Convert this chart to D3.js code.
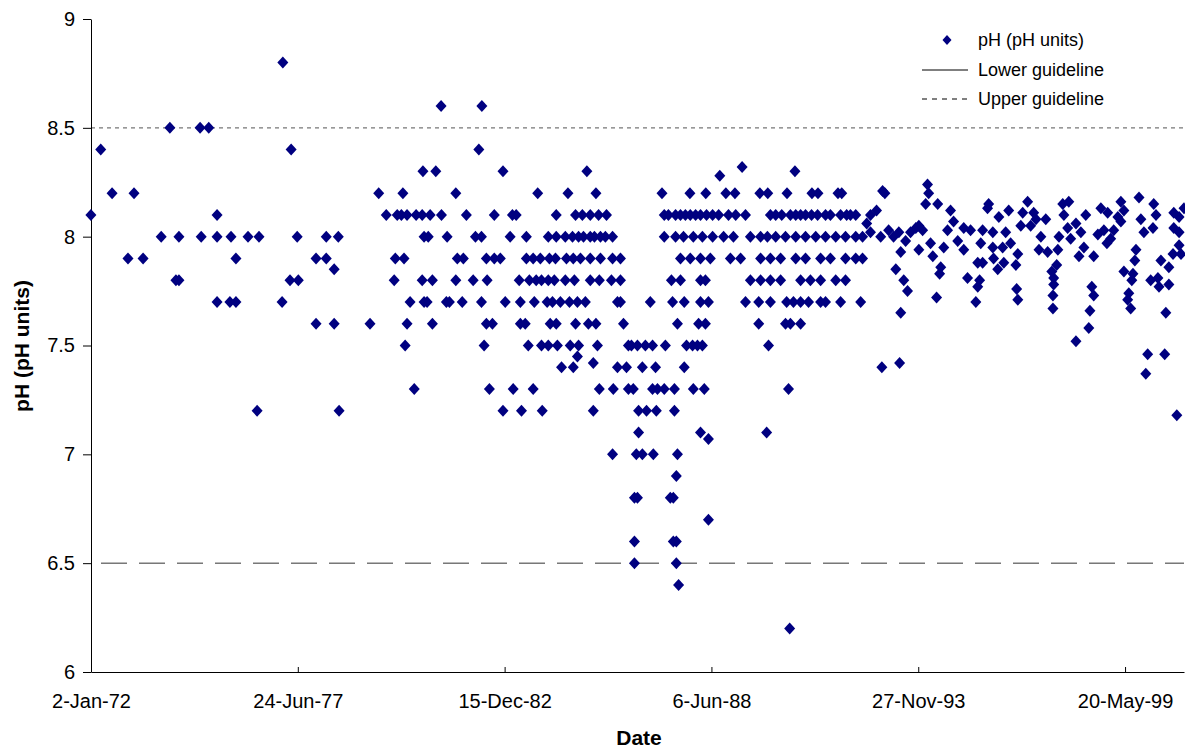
<!DOCTYPE html>
<html><head><meta charset="utf-8">
<script src="https://cdn.jsdelivr.net/npm/d3@7"></script>
<style>body{margin:0;background:#fff}text{font-family:"Liberation Sans",Arial,sans-serif}</style>
</head><body><svg id="c" width="1185" height="749"></svg>
<script>
// pH levels (1972-1992, 0.1 resolution) and decimal-year sample dates at each level
const phLevels = [8.8, 8.6, 8.5, 8.4, 8.32, 8.3, 8.28, 8.2, 8.1, 8.0, 7.9, 7.85, 7.8, 7.7, 7.6, 7.5, 7.45, 7.42, 7.4, 7.3, 7.2, 7.1, 7.07, 7.0, 6.9, 6.8, 6.7, 6.6, 6.5, 6.4, 6.2];
const yearsByLevel = [
 [1977.08],
 [1981.27,1982.35],
 [1974.09,1974.89,1975.12],
 [1972.26,1977.30,1982.27],
 [1989.24],
 [1980.79,1981.13,1982.91,1985.13,1990.64],
 [1988.65],
 [1972.56,1973.14,1979.62,1980.26,1981.66,1983.83,1984.63,1985.37,1987.12,1987.86,1988.28,1988.81,1989.05,1989.71,1989.92,1990.43,1991.09,1991.25,1991.78,1991.88,1993.02],
 [1972.00,1975.34,1979.82,1980.11,1980.22,1980.37,1980.61,1980.77,1980.98,1981.28,1981.94,1982.68,1983.16,1983.26,1984.32,1984.83,1985.01,1985.22,1985.44,1985.65,1987.18,1987.29,1987.48,1987.61,1987.74,1987.87,1988.01,1988.14,1988.30,1988.46,1988.62,1988.88,1989.07,1989.33,1989.99,1990.13,1990.29,1990.52,1990.66,1990.79,1990.92,1991.08,1991.24,1991.45,1991.58,1991.85,1992.01,1992.11,1992.25],
 [1973.86,1974.33,1974.92,1975.34,1975.71,1976.16,1976.45,1977.46,1978.23,1978.55,1980.82,1980.93,1981.43,1982.18,1982.34,1983.10,1983.53,1984.11,1984.32,1984.56,1984.75,1984.91,1985.04,1985.22,1985.33,1985.49,1985.62,1985.81,1987.18,1987.48,1987.69,1987.95,1988.19,1988.46,1988.75,1989.01,1989.46,1989.73,1989.91,1990.13,1990.39,1990.66,1990.92,1991.19,1991.45,1991.72,1991.98,1992.25,1992.43],
 [1972.98,1973.38,1975.84,1977.96,1978.23,1980.06,1980.29,1981.70,1981.86,1982.47,1982.68,1982.84,1983.53,1983.71,1983.90,1984.14,1984.30,1984.59,1984.77,1984.96,1985.22,1985.49,1985.81,1986.02,1987.61,1987.87,1988.14,1988.40,1988.93,1989.20,1989.73,1989.99,1990.26,1990.66,1990.92,1991.32,1991.58,1991.98,1992.25,1992.43],
 [1978.44],
 [1974.25,1974.33,1977.27,1977.49,1980.03,1980.77,1981.04,1981.66,1982.12,1982.49,1983.34,1983.61,1983.79,1983.93,1984.11,1984.27,1984.56,1984.80,1985.22,1985.46,1985.78,1986.02,1987.37,1987.61,1988.14,1988.27,1989.46,1989.73,1989.99,1990.26,1990.79,1991.05,1991.32,1991.72,1991.98],
 [1975.34,1975.68,1975.84,1977.06,1980.45,1980.82,1980.90,1981.41,1981.49,1981.83,1982.34,1982.97,1983.37,1983.74,1984.08,1984.22,1984.43,1984.67,1984.88,1985.09,1985.94,1986.02,1986.81,1987.40,1987.71,1988.14,1988.35,1989.33,1989.68,1989.99,1990.42,1990.60,1990.79,1991.00,1991.32,1991.45,1991.85,1992.38],
 [1977.96,1978.44,1979.39,1980.37,1981.04,1982.47,1982.63,1983.37,1983.50,1984.16,1984.32,1984.83,1985.17,1985.37,1986.10,1987.53,1988.09,1988.27,1989.68,1990.39,1990.52,1990.79],
 [1980.32,1982.41,1983.58,1983.93,1984.11,1984.35,1984.69,1984.91,1985.41,1986.23,1986.31,1986.47,1986.68,1986.87,1987.21,1987.77,1987.93,1988.06,1988.19,1989.94],
 [1984.88],
 [1985.30],
 [1984.46,1984.77,1985.94,1986.18,1986.60,1986.95,1987.71],
 [1980.56,1982.55,1983.18,1983.71,1985.46,1985.83,1986.23,1986.36,1986.87,1987.00,1987.18,1987.45,1987.95,1988.24,1990.47],
 [1976.40,1978.57,1982.91,1983.40,1983.95,1985.30,1986.50,1986.71,1986.97,1987.45],
 [1986.50,1988.14,1989.89],
 [1988.35],
 [1985.81,1986.44,1986.60,1986.89,1987.53],
 [1987.50],
 [1986.39,1986.47,1987.34,1987.42],
 [1988.35],
 [1986.39,1987.42,1987.50],
 [1986.39,1987.50],
 [1987.56],
 [1990.50]
];
// 1992-2000 samples (finer resolution)
const lateYears = [1992.96,1992.80,1992.64,1992.54,1992.91,1992.64,1993.12,1993.25,1993.39,1993.57,1993.70,1993.84,1993.44,1993.31,1993.52,1993.62,1993.44,1992.94,1993.41,1993.92,1993.92,
 1994.15,1994.18,1994.10,1994.42,1994.76,1994.02,1994.23,1994.58,1994.29,1994.50,1994.47,1994.39,1994.84,1994.68,1995.11,1995.29,1994.95,1995.11,1995.77,1995.74,1996.04,1996.30,1995.61,1995.88,1996.22,1995.56,1995.88,1996.14,1996.35,1996.54,1995.48,1995.61,1995.90,1996.17,1996.49,1996.01,1995.21,1995.53,1995.48,1995.43,1996.51,1996.54,
 1996.80,1996.67,1996.96,1996.62,1996.88,1997.02,1997.28,1997.15,1997.10,1997.33,1997.60,1997.63,1997.73,1997.89,1997.76,1997.86,1998.08,1997.94,1998.21,1998.29,1998.16,1998.34,1998.55,1997.57,1997.44,1997.49,1997.49,1997.47,1997.47,1998.50,1998.55,1998.45,1998.42,1998.08,
 1998.74,1998.92,1998.66,1998.82,1999.00,1998.90,1999.27,1999.35,1999.19,1999.27,1999.08,1999.75,2000.14,2000.20,2000.12,1999.80,1999.88,1999.67,1999.64,1999.35,1999.59,1999.56,1999.48,1999.45,1999.53,2000.06,2000.25,2000.33,2000.54,2000.28,2000.54,2000.46,1999.98,2000.43,1999.93,2000.75,2000.67,2000.81,2000.94,2000.67,2000.81,2000.65,2000.86,2000.81];
const latePH = [8.21,8.12,8.10,8.06,8.00,8.02,8.03,8.00,8.02,7.98,8.02,8.04,7.93,7.85,7.80,7.75,7.65,7.40,7.42,8.05,7.94,
 8.24,8.20,8.15,8.15,8.12,8.03,7.97,7.95,7.91,7.86,7.83,7.72,8.07,8.03,8.04,8.03,7.98,7.94,8.15,8.13,8.09,8.12,8.03,8.02,8.02,7.97,7.95,7.95,7.97,7.92,7.88,7.88,7.90,7.88,7.87,7.85,7.81,7.80,7.77,7.70,7.76,7.71,
 8.16,8.11,8.11,8.05,8.05,8.08,8.08,8.00,7.94,7.93,7.94,8.00,8.15,8.16,8.10,8.04,8.06,7.99,8.02,7.95,7.91,8.10,7.91,7.87,7.84,7.81,7.78,7.73,7.67,7.77,7.73,7.66,7.58,7.52,
 8.13,8.11,8.01,8.03,7.99,7.97,8.16,8.12,8.09,8.07,8.03,8.18,8.15,8.10,8.04,8.08,8.02,7.94,7.89,7.84,7.83,7.80,7.74,7.71,7.67,7.80,7.81,7.89,7.86,7.77,7.78,7.65,7.46,7.46,7.37,7.18,8.11,8.09,8.13,8.04,8.02,7.92,7.92,7.96];
const yTicks = [6, 6.5, 7, 7.5, 8, 8.5, 9];
const lowerGuideline = 6.5, upperGuideline = 8.5;
const legendLabels = ["pH (pH units)", "Lower guideline", "Upper guideline"];

const svg = d3.select("#c");
const start = new Date(1972,0,2);
const DAY = 864e5;
const x = d3.scaleTime().domain([start, new Date(+start + 10570*DAY)]).range([91, 1184]);
const y = d3.scaleLinear().domain([6, 9]).range([672, 19]);
const toDate = yr => { const f = Math.floor(yr); const a = new Date(f,0,1), b = new Date(f+1,0,1); return new Date(+a + (yr-f)*(b-a)); };

const pts = [];
phLevels.forEach((p,i) => yearsByLevel[i].forEach(yr => pts.push([toDate(yr), p])));
lateYears.forEach((yr,i) => pts.push([toDate(yr), latePH[i]]));

const xTicks = d3.range(0, 6).map(k => new Date(+start + k*2000*DAY));
const fmt = d3.timeFormat("%-d-%b-%y");
const FS = 18, TICKFS = 20, TITLEFS = 21;

// guidelines
svg.append("line").attr("x1",91).attr("x2",1184).attr("y1",y(upperGuideline)).attr("y2",y(upperGuideline))
  .attr("stroke","#777").attr("stroke-width",1.3).attr("stroke-dasharray","4,4");
svg.append("line").attr("x1",91).attr("x2",1184).attr("y1",y(lowerGuideline)).attr("y2",y(lowerGuideline))
  .attr("stroke","#333").attr("stroke-width",1).attr("stroke-dasharray","26,12").attr("stroke-dashoffset",-10);

const yAx = svg.append("g").attr("transform","translate(91,0)").call(d3.axisLeft(y).tickValues(yTicks).tickFormat(d3.format("")).tickSize(8).tickSizeOuter(0));
const xAx = svg.append("g").attr("transform","translate(0,672)").call(d3.axisBottom(x).tickValues(xTicks).tickFormat(fmt).tickSize(-5).tickSizeOuter(0));
[yAx,xAx].forEach(g=>{g.attr("font-size",null).selectAll("text").attr("font-size",TICKFS).attr("fill","#000");g.selectAll("line,path").attr("stroke","#000");});
yAx.selectAll("text").attr("x",-16);
xAx.selectAll("text").attr("y",22);

const diamond = "M0,-6L5.5,0L0,6L-5.5,0Z";
svg.append("g").selectAll("path").data(pts).join("path").attr("d",diamond)
  .attr("transform",d=>`translate(${x(d[0])},${y(d[1])})`).attr("fill","#000080");

svg.append("text").attr("x",639).attr("y",745).attr("text-anchor","middle").attr("font-weight","bold").attr("font-size",TITLEFS).text("Date");
svg.append("text").attr("transform","translate(29,346) rotate(-90)").attr("text-anchor","middle").attr("font-weight","bold").attr("font-size",TITLEFS).text("pH (pH units)");

// legend
const lg = svg.append("g");
lg.append("path").attr("d","M0,-5L4.5,0L0,5L-4.5,0Z").attr("transform","translate(947,40)").attr("fill","#000080");
lg.append("line").attr("x1",922).attr("x2",968).attr("y1",70).attr("y2",70).attr("stroke","#000");
lg.append("line").attr("x1",922).attr("x2",972).attr("y1",99).attr("y2",99).attr("stroke","#000").attr("stroke-dasharray","5,5");
legendLabels.forEach((t,i)=>lg.append("text").attr("x",978).attr("y",46+i*29.5).attr("font-size",FS).text(t));
</script></body></html>
